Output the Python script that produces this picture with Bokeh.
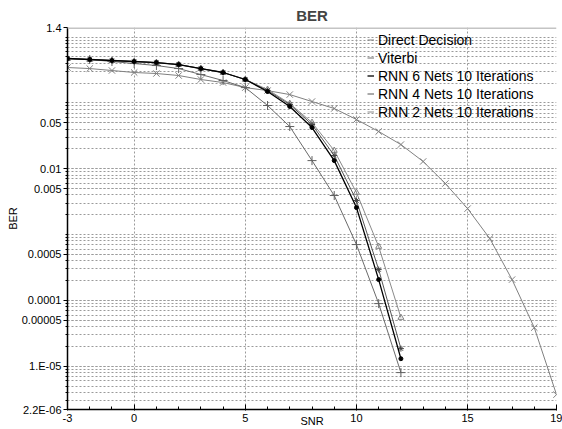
from bokeh.plotting import figure
from bokeh.models import Range1d, FixedTicker, Span, Legend, LegendItem
from bokeh.embed import file_html
from bokeh.resources import INLINE

# ---------------- data ----------------
snr_dd = list(range(-3, 20))
snr_rnn = list(range(-3, 13))

ber_direct = [0.345, 0.333, 0.311, 0.290, 0.280, 0.261, 0.227, 0.204, 0.171, 0.154,
              0.134, 0.105, 0.0823, 0.0560, 0.0368, 0.0233, 0.0129, 0.00596,
              0.00248, 0.000869, 0.000207, 3.86e-5, 3.7e-6]
ber_viterbi = [0.473, 0.457, 0.426, 0.397, 0.370, 0.333, 0.270, 0.219, 0.171,
               0.0914, 0.0438, 0.0133, 0.00392, 0.000705, 8.94e-5, 8.0e-6]
ber_rnn6 = [0.473, 0.457, 0.441, 0.426, 0.411, 0.383, 0.333, 0.290, 0.227,
            0.149, 0.0882, 0.0423, 0.0133, 0.00257, 0.000207, 1.30e-5]
ber_rnn4 = [0.473, 0.457, 0.441, 0.426, 0.411, 0.383, 0.333, 0.290, 0.227,
            0.154, 0.0947, 0.0470, 0.0159, 0.00329, 0.000294, 1.85e-5]
ber_rnn2 = [0.470, 0.455, 0.440, 0.425, 0.410, 0.383, 0.333, 0.290, 0.227,
            0.160, 0.098, 0.0504, 0.0189, 0.00435, 0.000657, 5.48e-5]

series_names = ["Direct Decision", "Viterbi", "RNN 6 Nets 10 Iterations",
                "RNN 4 Nets 10 Iterations", "RNN 2 Nets 10 Iterations"]

x_min, x_max = -3, 19
y_min, y_max = 2.2e-6, 1.4
x_ticks = [-3, 0, 5, 10, 15, 19]
x_tick_labels = ["-3", "0", "5", "10", "15", "19"]
x_grid_ticks = [0, 5, 10, 15]
x_minor = list(range(-3, 20))
y_ticks = [1.4, 0.05, 0.01, 0.005, 0.0005, 0.0001, 0.00005, 1e-5, 2.2e-6]
y_tick_labels = ["1.4", "0.05", "0.01", "0.005", "0.0005", "0.0001", "0.00005",
                 "1.E-05", "2.2E-06"]
y_minor = [n * 10.0 ** k for k in range(-6, 1) for n in range(1, 10)]

FONT = "Liberation Sans"

p = figure(width=562, height=429, x_range=Range1d(x_min, x_max),
           y_range=Range1d(y_min, y_max), y_axis_type="log",
           output_backend="svg", toolbar_location=None,
           min_border_left=67, min_border_right=6, min_border_top=27,
           min_border_bottom=0)

p.title.text = "BER"
p.title.align = "center"
p.title.text_font = FONT
p.title.text_font_size = "15px"
p.title.text_font_style = "bold"
p.title.standoff = 7
p.outline_line_color = None
p.background_fill_color = "white"

# x axis
xa = p.xaxis[0]
xa.ticker = FixedTicker(ticks=x_ticks, minor_ticks=x_minor)
xa.major_label_overrides = {v: t for v, t in zip(x_ticks, x_tick_labels)}
xa.axis_line_color = "black"
xa.axis_line_width = 1.5
xa.major_tick_in = 5
xa.major_tick_out = 1
xa.minor_tick_in = 3
xa.minor_tick_out = 0
xa.major_label_standoff = 3
xa.major_label_text_font = FONT
xa.major_label_text_font_size = "11px"
xa.major_label_text_color = "black"
xa.axis_label = "SNR"
xa.axis_label_standoff = -10
xa.axis_label_text_font = FONT
xa.axis_label_text_font_size = "11px"
xa.axis_label_text_font_style = "normal"
xa.axis_label_text_color = "black"

# y axis
ya = p.yaxis[0]
ya.ticker = FixedTicker(ticks=y_ticks, minor_ticks=y_minor)
ya.major_label_overrides = {v: t for v, t in zip(y_ticks, y_tick_labels)}
ya.axis_line_color = "black"
ya.axis_line_width = 1.5
ya.major_tick_in = 0
ya.major_tick_out = 4
ya.minor_tick_in = 0
ya.minor_tick_out = 2
ya.major_label_standoff = 2
ya.major_label_text_font = FONT
ya.major_label_text_font_size = "11px"
ya.major_label_text_color = "black"
ya.axis_label = "BER"
ya.axis_label_standoff = 0
ya.axis_label_text_font = FONT
ya.axis_label_text_font_size = "11px"
ya.axis_label_text_font_style = "normal"
ya.axis_label_text_color = "black"

GRID = "#9a9a9a"
p.xgrid.ticker = FixedTicker(ticks=x_grid_ticks)
p.xgrid.grid_line_color = GRID
p.xgrid.grid_line_dash = "2 2"
p.ygrid.ticker = FixedTicker(ticks=y_ticks[1:-1], minor_ticks=y_minor)
p.ygrid.grid_line_color = GRID
p.ygrid.grid_line_dash = "2 2"
p.ygrid.minor_grid_line_color = GRID
p.ygrid.minor_grid_line_dash = "2 2"

p.add_layout(Span(location=y_max, dimension="width", line_color="#c4c4c4",
                  line_width=3))

# series
l1 = p.line(snr_dd, ber_direct, line_color="#808080", line_width=1)
p.scatter(snr_dd, ber_direct, marker="x", size=9, line_color="#808080")
l2 = p.line(snr_rnn, ber_viterbi, line_color="#6a6a6a", line_width=1)
p.scatter(snr_rnn, ber_viterbi, marker="cross", size=9, line_color="#606060")
l5 = p.line(snr_rnn, ber_rnn2, line_color="#8a8a8a", line_width=1)
p.scatter(snr_rnn, ber_rnn2, marker="triangle", size=6, line_color="#808080",
          fill_color=None)
l4 = p.line(snr_rnn, ber_rnn4, line_color="#555555", line_width=1)
p.scatter(snr_rnn, ber_rnn4, marker="asterisk", size=6, line_color="#444444")
l3 = p.line(snr_rnn, ber_rnn6, line_color="black", line_width=1.3)
p.scatter(snr_rnn, ber_rnn6, marker="circle", size=4, line_color="black",
          fill_color="black")

legend = Legend(items=[LegendItem(label=n, renderers=[r]) for n, r in
                       zip(series_names, [l1, l2, l3, l4, l5])],
                location=(300, 289), orientation="vertical",
                glyph_width=7, glyph_height=17, label_height=17, spacing=1,
                label_standoff=4, padding=0, margin=0,
                border_line_color=None, background_fill_alpha=0,
                label_text_font=FONT, label_text_font_size="14px",
                label_text_color="black")
p.add_layout(legend, "center")

open("out.html", "w").write(file_html(p, INLINE))
